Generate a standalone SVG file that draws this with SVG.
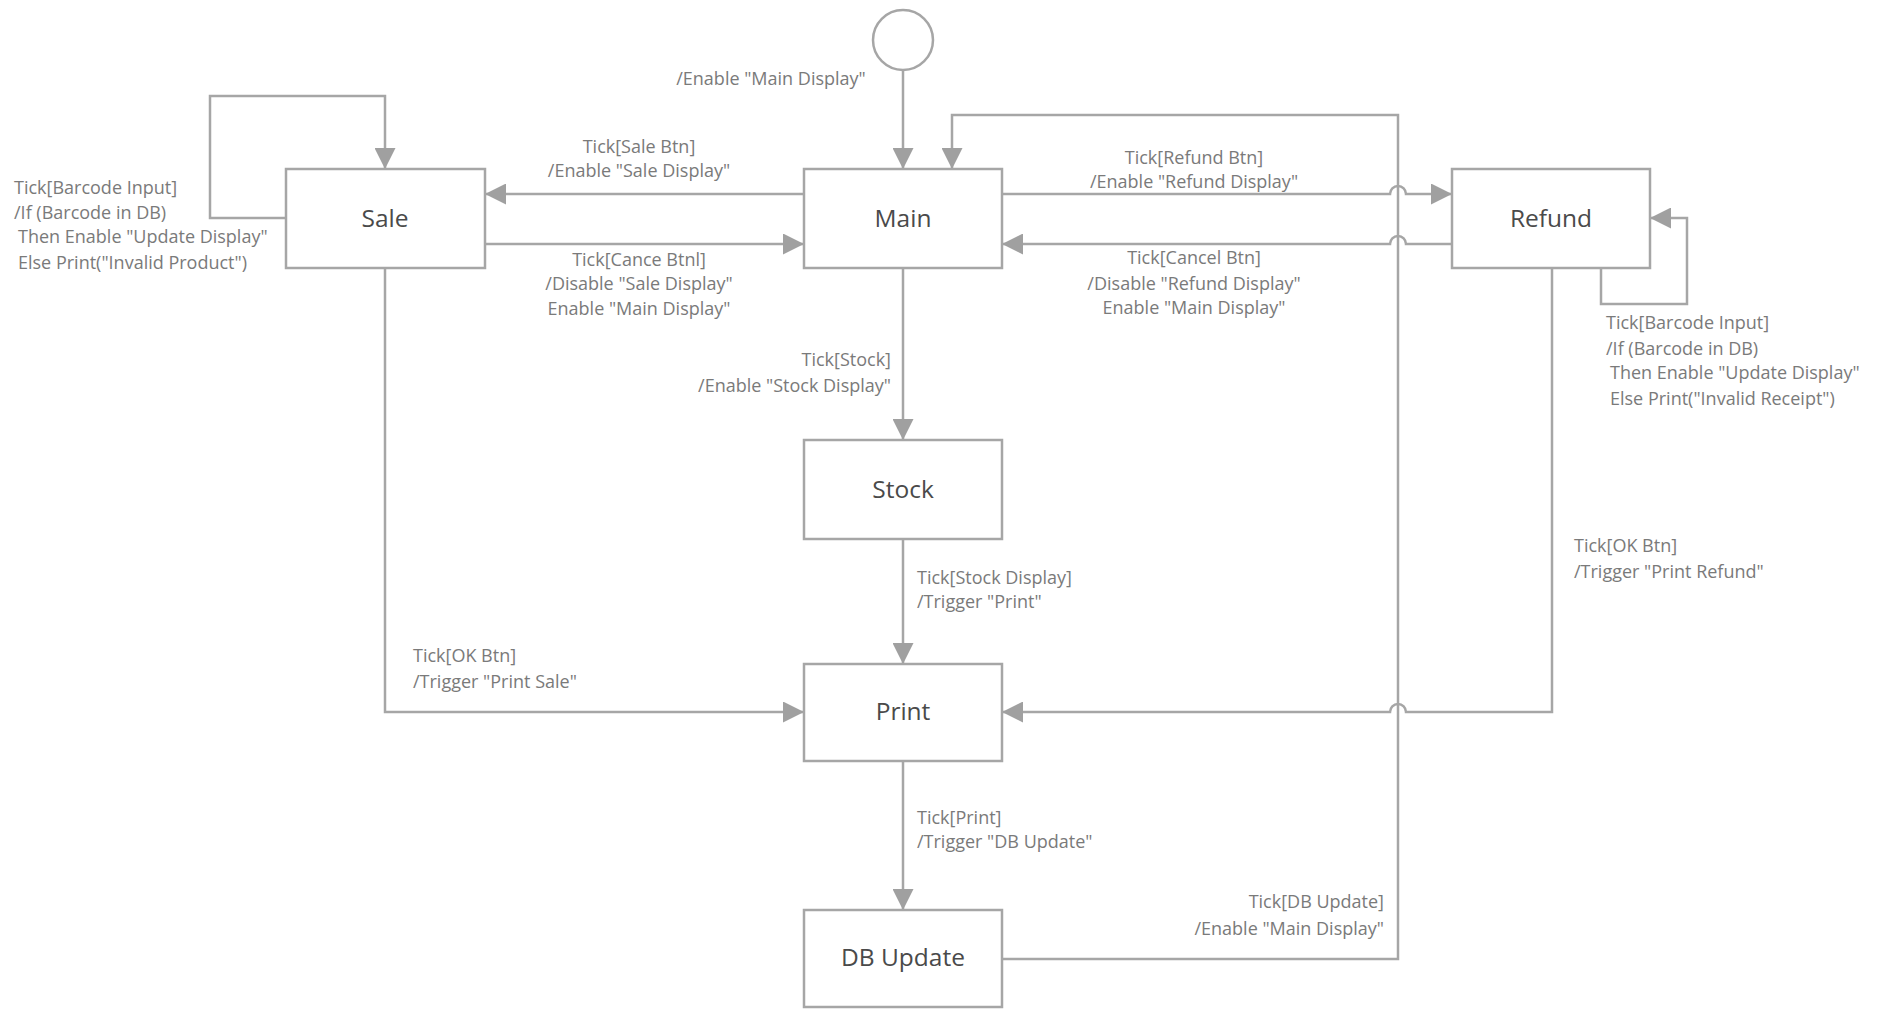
<svg xmlns="http://www.w3.org/2000/svg" width="1882" height="1010" viewBox="0 0 1882 1010">
<style>
.node rect, .node circle { fill: #ffffff; stroke: #a6a6a6; stroke-width: 2.5; }
.nlabel { font-family: "Open Sans", "Noto Sans", sans-serif; font-size: 24.5px; fill: #4a4a4a; text-anchor: middle; }
.conn path { fill: none; stroke: #a6a6a6; stroke-width: 2.5; }
.arrow { marker-end: url(#ah); }
.lbl { font-family: "Open Sans", "Noto Sans", sans-serif; font-size: 18px; fill: #7a7a7a; }
.mid { text-anchor: middle; }
.end { text-anchor: end; }
</style>
<defs>
<marker id="ah" viewBox="0 0 10 10" refX="10" refY="5" markerUnits="userSpaceOnUse" markerWidth="21" markerHeight="21" orient="auto">
<path d="M0,0 L10,5 L0,10 z" fill="#a0a0a0"/>
</marker>
</defs>
<rect width="1882" height="1010" fill="#ffffff"/>

<g id="connectors" class="conn">
<path class="arrow" d="M903,71 V169"/>
<path class="arrow" d="M804,194 H485"/>
<path class="arrow" d="M485,244 H804"/>
<path class="arrow" d="M1002,194 H1390 A8,8 0 0 1 1406,194 H1452"/>
<path class="arrow" d="M1452,244 H1406 A8,8 0 0 0 1390,244 H1002"/>
<path class="arrow" d="M286,218 H210 V96 H385 V169"/>
<path class="arrow" d="M1601,268 V304 H1687 V218 H1650"/>
<path class="arrow" d="M903,268 V440"/>
<path class="arrow" d="M903,539 V664"/>
<path class="arrow" d="M903,761 V910"/>
<path class="arrow" d="M385,268 V712 H804"/>
<path class="arrow" d="M1552,268 V712 H1406 A8,8 0 0 0 1390,712 H1002"/>
<path class="arrow" d="M1002,959 H1398 V115 H952 V169"/>
</g>

<g id="labels">
<text class="lbl mid" x="771" y="85">/Enable "Main Display"</text>
<text class="lbl mid" x="639" y="153">Tick[Sale Btn]</text>
<text class="lbl mid" x="639" y="177">/Enable "Sale Display"</text>
<text class="lbl mid" x="639" y="266">Tick[Cance Btnl]</text>
<text class="lbl mid" x="639" y="290">/Disable "Sale Display"</text>
<text class="lbl mid" x="639" y="315">Enable "Main Display"</text>
<text class="lbl mid" x="1194" y="164">Tick[Refund Btn]</text>
<text class="lbl mid" x="1194" y="188">/Enable "Refund Display"</text>
<text class="lbl mid" x="1194" y="264">Tick[Cancel Btn]</text>
<text class="lbl mid" x="1194" y="290">/Disable "Refund Display"</text>
<text class="lbl mid" x="1194" y="314">Enable "Main Display"</text>
<text class="lbl" x="14" y="194">Tick[Barcode Input]</text>
<text class="lbl" x="14" y="219">/If (Barcode in DB)</text>
<text class="lbl" x="18" y="243">Then Enable "Update Display"</text>
<text class="lbl" x="18" y="269">Else Print("Invalid Product")</text>
<text class="lbl" x="1606" y="329">Tick[Barcode Input]</text>
<text class="lbl" x="1606" y="355">/If (Barcode in DB)</text>
<text class="lbl" x="1610" y="379">Then Enable "Update Display"</text>
<text class="lbl" x="1610" y="405">Else Print("Invalid Receipt")</text>
<text class="lbl end" x="891" y="366">Tick[Stock]</text>
<text class="lbl end" x="891" y="392">/Enable "Stock Display"</text>
<text class="lbl" x="917" y="584">Tick[Stock Display]</text>
<text class="lbl" x="917" y="608">/Trigger "Print"</text>
<text class="lbl" x="413" y="662">Tick[OK Btn]</text>
<text class="lbl" x="413" y="688">/Trigger "Print Sale"</text>
<text class="lbl" x="1574" y="552">Tick[OK Btn]</text>
<text class="lbl" x="1574" y="578">/Trigger "Print Refund"</text>
<text class="lbl" x="917" y="824">Tick[Print]</text>
<text class="lbl" x="917" y="848">/Trigger "DB Update"</text>
<text class="lbl end" x="1384" y="908">Tick[DB Update]</text>
<text class="lbl end" x="1384" y="935">/Enable "Main Display"</text>
</g>

<g id="node-initial" class="node"><circle cx="903" cy="40" r="30"/></g>
<g id="node-sale" class="node"><rect x="286" y="169" width="199" height="99"/><text class="nlabel" x="385" y="227">Sale</text></g>
<g id="node-main" class="node"><rect x="804" y="169" width="198" height="99"/><text class="nlabel" x="903" y="227">Main</text></g>
<g id="node-refund" class="node"><rect x="1452" y="169" width="198" height="99"/><text class="nlabel" x="1551" y="227">Refund</text></g>
<g id="node-stock" class="node"><rect x="804" y="440" width="198" height="99"/><text class="nlabel" x="903" y="498">Stock</text></g>
<g id="node-print" class="node"><rect x="804" y="664" width="198" height="97"/><text class="nlabel" x="903" y="720">Print</text></g>
<g id="node-dbupdate" class="node"><rect x="804" y="910" width="198" height="97"/><text class="nlabel" x="903" y="966">DB Update</text></g>
</svg>
